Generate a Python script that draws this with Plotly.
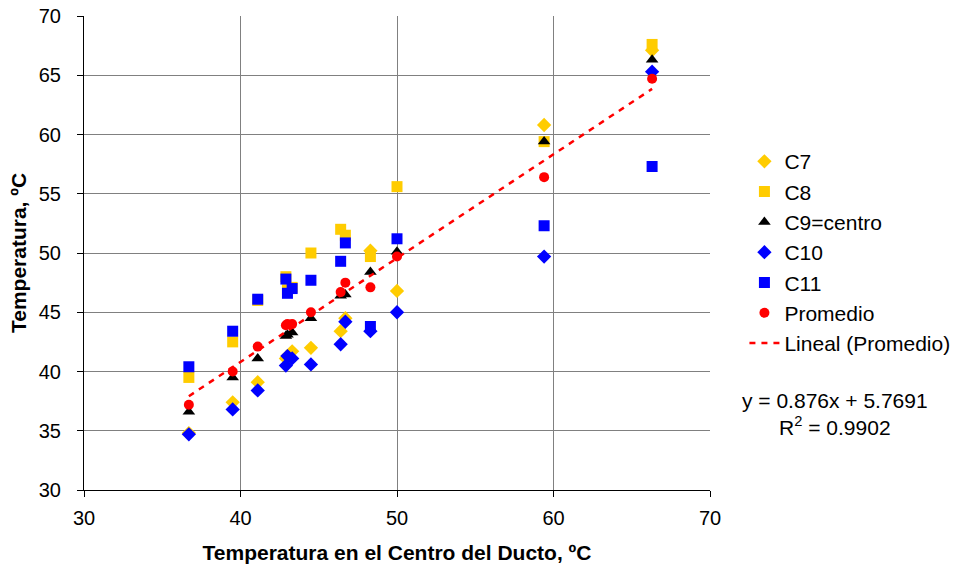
import plotly.graph_objects as go

# Data
x_duct = [36.7, 39.5, 41.1, 42.9, 43.0, 43.3, 44.5, 46.4, 46.7, 48.3, 50.0, 59.4, 66.3]
c7 = [34.8, 37.4, 39.1, 41.1, 41.3, 41.7, 42.0, 43.4, 44.5, 50.2, 46.8, 60.8, 67.1]
c8 = [39.5, 42.5, 46.0, 48.0, 46.9, 47.1, 50.0, 52.0, 51.5, 49.7, 55.6, 59.4, 67.6]
c9 = [36.6, 39.5, 41.1, 43.0, 43.1, 43.3, 44.5, 46.4, 46.5, 48.4, 50.1, 59.4, 66.3]
c10 = [34.7, 36.8, 38.4, 40.5, 41.3, 41.1, 40.6, 42.3, 44.2, 43.4, 45.0, 49.7, 65.3]
c11 = [40.4, 43.4, 46.1, 47.8, 46.6, 47.0, 47.7, 49.3, 50.85, 43.8, 51.2, 52.3, 57.3]
promedio = [37.2, 40.0, 42.1, 43.9, 44.0, 44.0, 45.0, 46.7, 47.5, 47.1, 49.7, 56.4, 64.7]

slope = 0.876
intercept = 5.7691
r2 = 0.9902

FONT = "Liberation Sans, Arial, sans-serif"
GOLD = "#FFCC00"
BLUE = "#0000FF"
RED = "#FF0000"

fig = go.Figure()

series = [
    ("C7", c7, "diamond", GOLD, 11),
    ("C8", c8, "square", GOLD, 11),
    ("C9=centro", c9, "triangle-up", "black", 11),
    ("C10", c10, "diamond", BLUE, 11),
    ("C11", c11, "square", BLUE, 11),
    ("Promedio", promedio, "circle", RED, 10),
]
for name, ys, sym, col, sz in series:
    fig.add_trace(go.Scatter(
        x=x_duct, y=ys, mode="markers", name=name,
        marker=dict(symbol=sym, color=col, size=sz, line=dict(width=0)),
    ))

xmin, xmax = min(x_duct), max(x_duct)
fig.add_trace(go.Scatter(
    x=[xmin, xmax], y=[slope * xmin + intercept, slope * xmax + intercept],
    mode="lines", name="Lineal (Promedio)",
    line=dict(color=RED, width=2.5, dash="6px,6px"),
))

axis_common = dict(
    showline=True, linecolor="black", linewidth=1,
    showgrid=True, gridcolor="#808080", gridwidth=1,
    ticks="outside", ticklen=6, tickcolor="black",
    tickfont=dict(family=FONT, size=20, color="black"),
    zeroline=False, automargin=False,
)

fig.update_layout(
    width=958, height=568,
    margin=dict(l=84, r=248, t=16, b=78, autoexpand=False),
    paper_bgcolor="white", plot_bgcolor="white",
    font=dict(family=FONT, size=21, color="black"),
    xaxis=dict(range=[30, 70], dtick=10, **axis_common,
               ticklabelstandoff=4,
               title=dict(text="<b>Temperatura en el Centro del Ducto, ºC</b>",
                          font=dict(family=FONT, size=21), standoff=17)),
    yaxis=dict(range=[30, 70], dtick=5, **axis_common,
               ticklabelstandoff=12,
               title=dict(text="<b>Temperatura, ºC</b>",
                          font=dict(family=FONT, size=21), standoff=6)),
    legend=dict(x=1.055, xanchor="left", y=0.736, yanchor="top",
                font=dict(family=FONT, size=21), bgcolor="rgba(0,0,0,0)",
                tracegroupgap=0, itemwidth=30),
    showlegend=True,
)

fig.add_annotation(
    xref="paper", yref="paper", x=1.2, y=0.16, xanchor="center", yanchor="middle",
    text=f"y = {slope}x + {intercept}<br>R<sup>2</sup> = {r2}",
    showarrow=False, align="center", font=dict(family=FONT, size=21, color="black"),
)

fig.write_html("out.html")
